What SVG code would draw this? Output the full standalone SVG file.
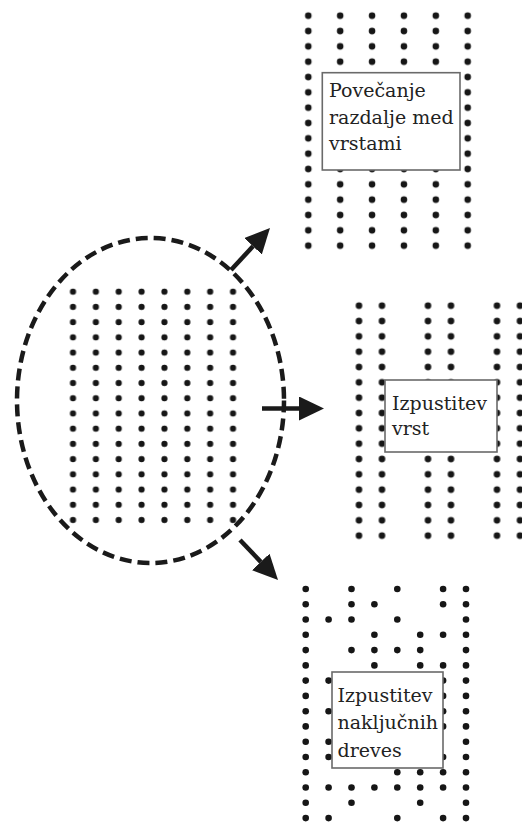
<svg xmlns="http://www.w3.org/2000/svg" width="522" height="824" viewBox="0 0 522 824">
<style>
.dot{fill:#161616}
.box{fill:#ffffff;stroke:#6a6a6a;stroke-width:1.6}
.lbl{font-family:"DejaVu Serif","Liberation Serif",serif;font-size:19px;fill:#222222}
.conn{stroke:#1a1a1a;stroke-width:4.5;fill:none}
.bd{r:3.3px}
</style>
<defs>
<pattern id="pSrc" patternUnits="userSpaceOnUse" x="61.57" y="284.09" width="22.86" height="15.22">
<circle class="dot" cx="11.43" cy="7.61" r="3.1"/>
</pattern>
<pattern id="pTop" patternUnits="userSpaceOnUse" x="292.36" y="8.035" width="31.88" height="15.33">
<circle class="dot" cx="15.94" cy="7.665" r="3.3"/>
</pattern>
<pattern id="pMid" patternUnits="userSpaceOnUse" x="347.5" y="298.035" width="69" height="15.33">
<circle class="dot" cx="11.5" cy="7.665" r="3.3"/>
<circle class="dot" cx="34.5" cy="7.665" r="3.3"/>
</pattern>
<marker id="head" viewBox="0 0 25 24" refX="0" refY="12" markerWidth="25" markerHeight="24" markerUnits="userSpaceOnUse" orient="auto">
<path d="M0,0 L25,12 L0,24 Z" fill="#1a1a1a"/>
</marker>
</defs>

<g id="source">
<ellipse cx="150.5" cy="400.5" rx="133.5" ry="162.5" fill="none" stroke="#1a1a1a" stroke-width="4.5" stroke-dasharray="12 6"/>
<rect x="61.57" y="284.09" width="182.88" height="243.52" fill="url(#pSrc)"/>
</g>

<g id="wider-rows">
<rect x="292.36" y="8.035" width="191.28" height="245.28" fill="url(#pTop)"/>
<rect class="box" x="322.3" y="72.7" width="137.7" height="97.3"/>
<text class="lbl" x="329" y="97">Povečanje</text>
<text class="lbl" x="329" y="123.5">razdalje med</text>
<text class="lbl" x="329" y="150">vrstami</text>
</g>

<g id="removed-rows">
<rect x="347.5" y="298.035" width="174.5" height="245.28" fill="url(#pMid)"/>
<rect class="box" x="385" y="380" width="112" height="72"/>
<text class="lbl" x="392" y="410">Izpustitev</text>
<text class="lbl" x="392" y="435">vrst</text>
</g>

<g id="removed-random">
<g class="dot">
<circle cx="305.7" cy="589" r="3.3"/><circle cx="351.5" cy="589" r="3.3"/><circle cx="397.3" cy="589" r="3.3"/><circle cx="443.1" cy="589" r="3.3"/><circle cx="466" cy="589" r="3.3"/>
<circle cx="305.7" cy="604.3" r="3.3"/><circle cx="351.5" cy="604.3" r="3.3"/><circle cx="374.4" cy="604.3" r="3.3"/><circle cx="443.1" cy="604.3" r="3.3"/><circle cx="466" cy="604.3" r="3.3"/>
<circle cx="305.7" cy="619.5" r="3.3"/><circle cx="328.6" cy="619.5" r="3.3"/><circle cx="351.5" cy="619.5" r="3.3"/><circle cx="397.3" cy="619.5" r="3.3"/><circle cx="466" cy="619.5" r="3.3"/>
<circle cx="305.7" cy="634.8" r="3.3"/><circle cx="374.4" cy="634.8" r="3.3"/><circle cx="420.2" cy="634.8" r="3.3"/><circle cx="443.1" cy="634.8" r="3.3"/><circle cx="466" cy="634.8" r="3.3"/>
<circle cx="305.7" cy="650.1" r="3.3"/><circle cx="351.5" cy="650.1" r="3.3"/><circle cx="374.4" cy="650.1" r="3.3"/><circle cx="397.3" cy="650.1" r="3.3"/><circle cx="420.2" cy="650.1" r="3.3"/><circle cx="466" cy="650.1" r="3.3"/>
<circle cx="305.7" cy="665.4" r="3.3"/><circle cx="374.4" cy="665.4" r="3.3"/><circle cx="420.2" cy="665.4" r="3.3"/><circle cx="443.1" cy="665.4" r="3.3"/><circle cx="466" cy="665.4" r="3.3"/>
<circle cx="305.7" cy="680.6" r="3.3"/><circle cx="328.6" cy="680.6" r="3.3"/><circle cx="443.1" cy="680.6" r="3.3"/><circle cx="466" cy="680.6" r="3.3"/>
<circle cx="305.7" cy="695.9" r="3.3"/><circle cx="443.1" cy="695.9" r="3.3"/><circle cx="466" cy="695.9" r="3.3"/>
<circle cx="305.7" cy="711.2" r="3.3"/><circle cx="328.6" cy="711.2" r="3.3"/><circle cx="443.1" cy="711.2" r="3.3"/><circle cx="466" cy="711.2" r="3.3"/>
<circle cx="305.7" cy="726.4" r="3.3"/><circle cx="443.1" cy="726.4" r="3.3"/><circle cx="466" cy="726.4" r="3.3"/>
<circle cx="305.7" cy="741.7" r="3.3"/><circle cx="328.6" cy="741.7" r="3.3"/><circle cx="466" cy="741.7" r="3.3"/>
<circle cx="305.7" cy="757" r="3.3"/><circle cx="328.6" cy="757" r="3.3"/><circle cx="443.1" cy="757" r="3.3"/><circle cx="466" cy="757" r="3.3"/>
<circle cx="305.7" cy="772.2" r="3.3"/><circle cx="397.3" cy="772.2" r="3.3"/><circle cx="420.2" cy="772.2" r="3.3"/><circle cx="443.1" cy="772.2" r="3.3"/><circle cx="466" cy="772.2" r="3.3"/>
<circle cx="305.7" cy="787.5" r="3.3"/><circle cx="328.6" cy="787.5" r="3.3"/><circle cx="351.5" cy="787.5" r="3.3"/><circle cx="374.4" cy="787.5" r="3.3"/><circle cx="397.3" cy="787.5" r="3.3"/><circle cx="420.2" cy="787.5" r="3.3"/><circle cx="443.1" cy="787.5" r="3.3"/><circle cx="466" cy="787.5" r="3.3"/>
<circle cx="305.7" cy="802.8" r="3.3"/><circle cx="351.5" cy="802.8" r="3.3"/><circle cx="420.2" cy="802.8" r="3.3"/><circle cx="466" cy="802.8" r="3.3"/>
<circle cx="305.7" cy="818.1" r="3.3"/><circle cx="328.6" cy="818.1" r="3.3"/><circle cx="397.3" cy="818.1" r="3.3"/><circle cx="443.1" cy="818.1" r="3.3"/><circle cx="466" cy="818.1" r="3.3"/>
</g>
<rect class="box" x="332" y="672" width="111" height="96"/>
<text class="lbl" x="337.5" y="702">Izpustitev</text>
<text class="lbl" x="337.5" y="728.5">naključnih</text>
<text class="lbl" x="337.5" y="756.5">dreves</text>
</g>

<g id="connectors">
<line class="conn" x1="231" y1="270" x2="253" y2="246.3" marker-end="url(#head)"/>
<line class="conn" x1="262" y1="408.5" x2="299" y2="408.5" marker-end="url(#head)"/>
<line class="conn" x1="240" y1="540" x2="260.8" y2="561.9" marker-end="url(#head)"/>
</g>
</svg>
